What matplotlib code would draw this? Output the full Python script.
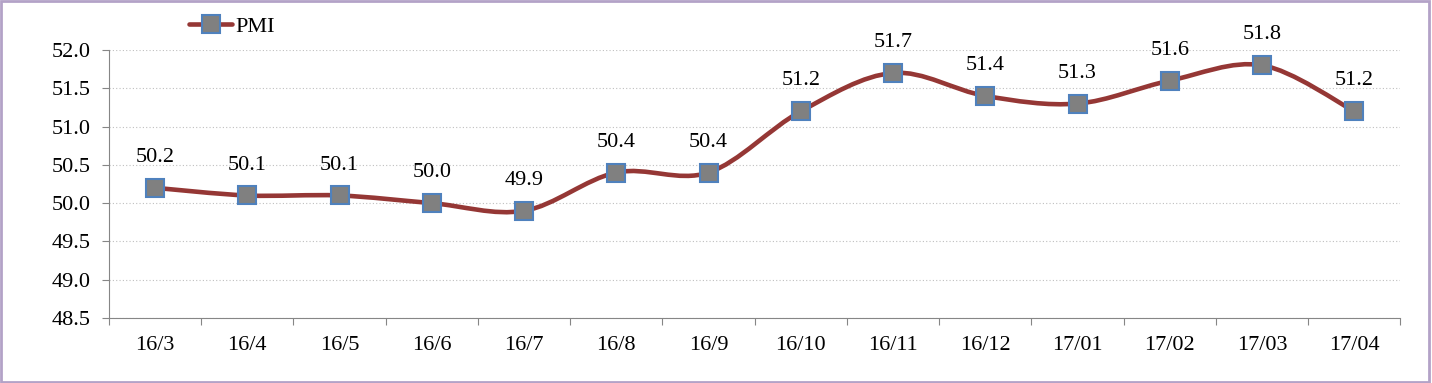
import matplotlib
matplotlib.use('Agg')
import matplotlib.pyplot as plt
from matplotlib.path import Path
from matplotlib.patches import PathPatch, Rectangle
from matplotlib.lines import Line2D
import numpy as np

# data
months = ["16/3", "16/4", "16/5", "16/6", "16/7", "16/8", "16/9", "16/10",
          "16/11", "16/12", "17/01", "17/02", "17/03", "17/04"]
pmi = [50.2, 50.1, 50.1, 50.0, 49.9, 50.4, 50.4, 51.2, 51.7, 51.4, 51.3, 51.6, 51.8, 51.2]

plt.rcParams['font.family'] = ['Liberation Serif', 'DejaVu Serif']

line_color = '#953735'
axis_color = '#868686'

fig = plt.figure(figsize=(14.32, 3.83), dpi=100)
ax = fig.add_axes([0.0761, 0.1697, 0.9019, 0.6998])

x = np.arange(len(pmi))
y = np.array(pmi)

# smoothed line like Excel (Bezier through the points)
verts = [(x[0], y[0])]
codes = [Path.MOVETO]
n = len(x)
for i in range(n - 1):
    p0 = np.array([x[max(i - 1, 0)], y[max(i - 1, 0)]])
    p1 = np.array([x[i], y[i]])
    p2 = np.array([x[i + 1], y[i + 1]])
    p3 = np.array([x[min(i + 2, n - 1)], y[min(i + 2, n - 1)]])
    c1 = p1 + (p2 - p0) / 6
    c2 = p2 - (p3 - p1) / 6
    verts += [tuple(c1), tuple(c2), tuple(p2)]
    codes += [Path.CURVE4] * 3
ax.add_patch(PathPatch(Path(verts, codes), facecolor='none', edgecolor=line_color,
                       lw=3.3, capstyle='round', joinstyle='round', zorder=3))

ax.plot(x, y, ls='none', marker='s', ms=12.5, mfc='#808080', mec='#4F81BD', mew=1.5, zorder=4)

for xi, yi in zip(x, y):
    ax.annotate(f"{yi:.1f}", (xi, yi), xytext=(0, 15), textcoords='offset points',
                ha='center', va='bottom', fontsize=16)

ax.set_xlim(-0.5, len(pmi) - 0.5)
ax.set_ylim(48.5, 52.0)
ax.set_yticks(np.arange(48.5, 52.01, 0.5))
ax.set_yticklabels([f"{v:.1f}" for v in np.arange(48.5, 52.01, 0.5)], fontsize=16)
ax.yaxis.grid(True, ls=(0, (1, 2)), color='#BFBFBF', lw=0.8)
ax.set_axisbelow(True)

ax.set_xticks(np.arange(-0.5, len(pmi), 1.0))
ax.set_xticklabels([])
ax.set_xticks(x, minor=True)
ax.set_xticklabels(months, minor=True, fontsize=16)
ax.tick_params(axis='x', which='major', length=5, color=axis_color, direction='out')
ax.tick_params(axis='x', which='minor', length=0, pad=13)
ax.tick_params(axis='y', length=5, color=axis_color, direction='out', pad=8)

for s in ['top', 'right']:
    ax.spines[s].set_visible(False)
for s in ['left', 'bottom']:
    ax.spines[s].set_color(axis_color)

handle = Line2D([], [], color=line_color, lw=3.3, solid_capstyle='round', marker='s',
                ms=12.5, mfc='#808080', mec='#4F81BD', mew=1.5)
fig.legend([handle], ['PMI'], loc='center', bbox_to_anchor=(0.162, 0.93), frameon=False,
           fontsize=16, handlelength=1.9, handletextpad=0.15)

fig.patches.append(Rectangle((0.001, 0.003), 0.997, 0.994, transform=fig.transFigure,
                             fill=False, edgecolor='#B3A2C7', lw=2))

fig.savefig('out.png', dpi=100)
